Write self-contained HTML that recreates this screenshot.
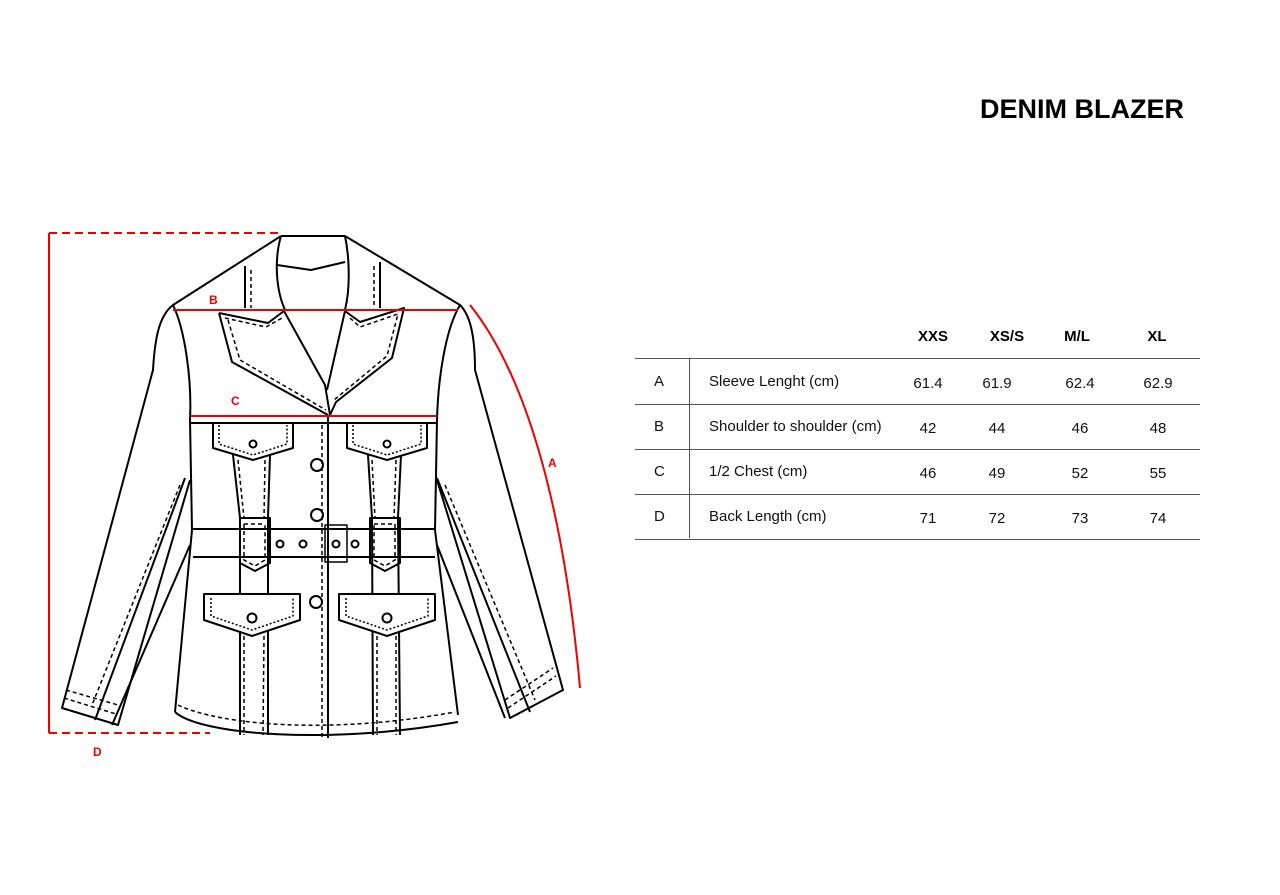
<!DOCTYPE html>
<html><head><meta charset="utf-8"><style>
body{margin:0;background:#fff;width:1280px;height:895px;overflow:hidden;font-family:"Liberation Sans",sans-serif}
svg{position:absolute;left:0;top:0}
</style></head><body>
<svg width="1280" height="895" viewBox="0 0 1280 895">
<g fill="none" stroke="#000" stroke-width="2" stroke-linejoin="round">
<!-- collar/shoulders -->
<path d="M281,236 L173,305 C160,315 155,335 153,370 L62,708 L118,725 L190,480"/>
<path d="M345,236 L460,305 C470,315 475,335 475,370 L563,690 L510,718 L437,480"/>
<path d="M281,236 L345,236"/>
<path d="M281,236 C274,260 276,290 285,310 M345,236 C350,260 350,290 345,310"/>
<path d="M277,265 L311,270 L345,262"/>
<path d="M245,266 L245,308 M380,262 L380,308"/>
<!-- body sides -->
<path d="M173,305 C185,330 192,380 190,420 L192,530 L175,712 M460,305 C445,330 438,380 437,420 L435,530 L458,715"/>
<path d="M175,712 C200,735 330,745 458,722"/>
<path d="M190,423 L437,423"/>
<!-- lapels -->
<path d="M219,313 L268,323 L284,311 L325,385 L330,415 M219,313 L232,362 L328,415"/>
<path d="M345,311 L360,322 L404,308 L392,358 L336,402 L330,415 M345,311 L327,390"/>
<!-- sleeves -->
<path d="M185,478 L95,720 M190,545 L112,725 M437,478 L530,712 M437,545 L505,718"/>
<!-- center -->
<path d="M328,416 L328,738"/>
<!-- belt -->
<path d="M193,529 L435,529 M193,557 L435,557"/>
<rect x="325" y="525" width="22" height="37" stroke-width="1.5"/>
<circle cx="280" cy="544" r="3.5"/><circle cx="303" cy="544" r="3.5"/><circle cx="336" cy="544" r="3.5"/><circle cx="355" cy="544" r="3.5"/>
<!-- straps -->
<path d="M233,455 L240,518 L240,735 M270,455 L268,518 L268,735"/>
<path d="M368,455 L372,518 L373,735 M401,455 L398,518 L400,735"/>
<path d="M240,518 L270,518 L270,563 L255,571 L240,563 Z"/>
<path d="M370,518 L400,518 L400,563 L385,571 L370,563 Z"/>
<!-- chest pockets -->
<path d="M213,422 L213,448 L253,460 L293,448 L293,422"/>
<path d="M347,422 L347,448 L387,460 L427,448 L427,422"/>
<circle cx="253" cy="444" r="3.5"/><circle cx="387" cy="444" r="3.5"/>
<!-- lower pockets -->
<path d="M204,594 L300,594 L300,620 L252,636 L204,620 Z" fill="#fff"/>
<path d="M339,594 L435,594 L435,620 L387,636 L339,620 Z" fill="#fff"/>
<circle cx="252" cy="618" r="4.5"/><circle cx="387" cy="618" r="4.5"/>
<circle cx="317" cy="465" r="6"/><circle cx="317" cy="515" r="6"/><circle cx="316" cy="602" r="6"/>
</g>
<g fill="none" stroke="#000" stroke-width="1.5" stroke-dasharray="4,3">
<path d="M225,318 L266,327 L282,318 M228,320 L240,360 L326,410"/>
<path d="M350,318 L360,327 L398,314 L387,356 L334,400"/>
<path d="M251,270 L251,308 M374,266 L374,308"/>
<path d="M322,425 L322,738"/>
<path d="M178,705 C220,725 330,735 455,712"/>
<path d="M180,485 L92,705 M445,485 L535,700"/>
<path d="M66,690 L118,705 M64,698 L116,714 M505,700 L553,668 M508,708 L556,676"/>
<path d="M238,460 L244,518 M265,460 L264,518 M372,460 L375,518 M396,460 L394,518"/>
<path d="M244,636 L244,735 M264,636 L263,735 M377,636 L377,735 M396,636 L396,735"/>
<path d="M244,524 L265,524 M244,524 L244,560 L255,566 L265,560 L265,524 M374,524 L395,524 L395,560 L385,566 L374,560 Z"/>
</g>
<g fill="none" stroke="#000" stroke-width="1.5" stroke-dasharray="2,2">
<path d="M219,425 L219,444 L253,455 L287,444 L287,425 M353,425 L353,444 L387,455 L421,444 L421,425"/>
<path d="M211,598 L211,616 L252,630 L293,616 L293,598 M346,598 L346,616 L387,630 L428,616 L428,598"/>
</g>
<!-- red measurements -->
<g fill="none" stroke="#e00" stroke-width="2">
<path d="M49,233 L281,233 M49,733 L210,733" stroke-dasharray="8,5"/>
<path d="M49,233 L49,733"/>
<path d="M173,310 L458,310"/>
<path d="M191,416 L437,416"/>
<path d="M470,305 C530,380 565,520 580,688"/>
</g>
<g fill="#e00" font-weight="bold" font-size="12">
<text x="209" y="304">B</text><text x="231" y="405">C</text><text x="548" y="467">A</text><text x="93" y="756">D</text>
</g>
<text x="1184" y="118" text-anchor="end" font-weight="bold" font-size="27">DENIM BLAZER</text>
<g stroke="#555" stroke-width="1">
<path d="M635,358.5 H1200 M635,404.5 H1200 M635,449.5 H1200 M635,494.5 H1200 M635,539.5 H1200 M689.5,358 V538"/>
</g>
<g font-size="15" font-weight="bold" text-anchor="middle">
<text x="933" y="341">XXS</text><text x="1007" y="341">XS/S</text><text x="1077" y="341">M/L</text><text x="1157" y="341">XL</text>
</g>
<g font-size="15" fill="#111">
<text x="654" y="386">A</text><text x="654" y="431">B</text><text x="654" y="476">C</text><text x="654" y="521">D</text>
<text x="709" y="386">Sleeve Lenght (cm)</text><text x="709" y="431">Shoulder to shoulder (cm)</text><text x="709" y="476">1/2 Chest (cm)</text><text x="709" y="521">Back Length (cm)</text>
</g>
<g font-size="15" fill="#111" text-anchor="middle">
<text x="928" y="388">61.4</text><text x="997" y="388">61.9</text><text x="1080" y="388">62.4</text><text x="1158" y="388">62.9</text>
<text x="928" y="433">42</text><text x="997" y="433">44</text><text x="1080" y="433">46</text><text x="1158" y="433">48</text>
<text x="928" y="478">46</text><text x="997" y="478">49</text><text x="1080" y="478">52</text><text x="1158" y="478">55</text>
<text x="928" y="523">71</text><text x="997" y="523">72</text><text x="1080" y="523">73</text><text x="1158" y="523">74</text>
</g>
</svg>
</body></html>
